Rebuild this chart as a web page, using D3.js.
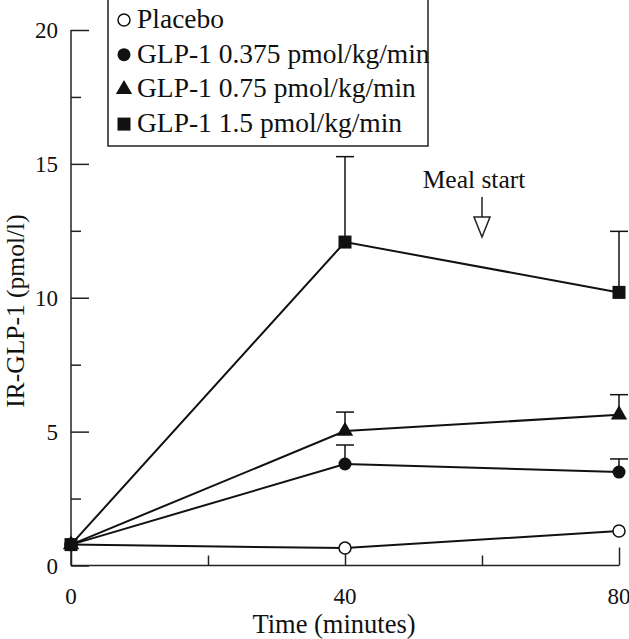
<!DOCTYPE html>
<html><head><meta charset="utf-8">
<script src="https://cdn.jsdelivr.net/npm/d3@7"></script>
<style>body{margin:0;background:#fff}svg{display:block}text{font-family:"Liberation Serif","Times New Roman",serif;fill:#111}</style>
</head><body><svg id="c" width="629" height="639"></svg>
<script>
const times = [0, 40, 80];
const seriesNames = ["Placebo", "GLP-1 0.375 pmol/kg/min", "GLP-1 0.75 pmol/kg/min", "GLP-1 1.5 pmol/kg/min"];
const seriesSymbols = ["openCircle", "circle", "triangle", "square"];
const placebo = [0.78, 0.65, 1.29];
const glp0375 = [0.78, 3.79, 3.49];
const glp075 = [0.78, 5.02, 5.63];
const glp15 = [0.78, 12.08, 10.2];
const placeboUpper = [null, null, null];
const glp0375Upper = [null, 4.5, 3.98];
const glp075Upper = [null, 5.73, 6.38];
const glp15Upper = [null, 15.27, 12.48];
const yTicks = [0, 5, 10, 15, 20];
const yMinorTicks = [2.5, 7.5, 12.5, 17.5];
const xTicks = [0, 40, 80];
const xMinorTicks = [20, 60];
const mealTime = 60;

const svg = d3.select("#c");
const x = d3.scaleLinear().domain([0, 80]).range([71, 619]);
const y = d3.scaleLinear().domain([0, 20]).range([565.5, 30]);

const g = svg.append("g");
const yAxis = d3.axisRight(y).tickValues(yTicks).tickSize(18).tickFormat("");
const yAxisMinor = d3.axisRight(y).tickValues(yMinorTicks).tickSize(10).tickFormat("");
const xAxis = d3.axisTop(x).tickValues(xTicks).tickSize(18).tickFormat("");
const xAxisMinor = d3.axisTop(x).tickValues(xMinorTicks).tickSize(10).tickFormat("");
[[yAxis, `translate(${x(0)},0)`], [yAxisMinor, `translate(${x(0)},0)`], [xAxis, `translate(0,${y(0)})`], [xAxisMinor, `translate(0,${y(0)})`]].forEach(([ax, tr]) => {
  const a = g.append("g").attr("transform", tr).call(ax);
  a.select(".domain").remove();
  a.selectAll(".tick line").attr("stroke", "#222").attr("stroke-width", 1.5);
});
g.append("line").attr("x1", x(0)).attr("x2", x(0)).attr("y1", y(20)).attr("y2", y(0)).attr("stroke", "#222").attr("stroke-width", 1.5);
g.append("line").attr("x1", x(0)).attr("x2", x(80)).attr("y1", y(0)).attr("y2", y(0)).attr("stroke", "#222").attr("stroke-width", 1.5);

g.selectAll(".ylab").data(yTicks).enter().append("text")
  .attr("x", 58).attr("y", d => y(d) + 8).attr("text-anchor", "end").attr("font-size", 23).text(d => d);
g.selectAll(".xlab").data(xTicks).enter().append("text")
  .attr("x", d => x(d)).attr("y", 604).attr("text-anchor", "middle").attr("font-size", 23).text(d => d);

svg.append("text").attr("x", 334).attr("y", 633).attr("text-anchor", "middle").attr("font-size", 26.5).text("Time (minutes)");
svg.append("text").attr("transform", "translate(24,311) rotate(-90)").attr("text-anchor", "middle").attr("font-size", 25.5).text("IR-GLP-1 (pmol/l)");

const allSeries = [placebo, glp0375, glp075, glp15];
const allUpper = [placeboUpper, glp0375Upper, glp075Upper, glp15Upper];
const line = d3.line().x((d, i) => x(times[i])).y(d => y(d));

allUpper.forEach((up, s) => {
  up.forEach((u, i) => {
    if (u == null) return;
    const cx = x(times[i]);
    g.append("line").attr("x1", cx).attr("x2", cx).attr("y1", y(allSeries[s][i])).attr("y2", y(u)).attr("stroke", "#111").attr("stroke-width", 1.5);
    g.append("line").attr("x1", cx - 9).attr("x2", cx + 9).attr("y1", y(u)).attr("y2", y(u)).attr("stroke", "#111").attr("stroke-width", 1.5);
  });
});
allSeries.forEach(s => {
  g.append("path").datum(s).attr("d", line).attr("fill", "none").attr("stroke", "#111").attr("stroke-width", 2);
});

function drawSymbol(sel, type, cx, cy) {
  if (type === "openCircle") sel.append("circle").attr("cx", cx).attr("cy", cy).attr("r", 6).attr("fill", "#fff").attr("stroke", "#111").attr("stroke-width", 1.5);
  else if (type === "circle") sel.append("circle").attr("cx", cx).attr("cy", cy).attr("r", 6.5).attr("fill", "#111");
  else if (type === "triangle") sel.append("path").attr("d", d3.symbol(d3.symbolTriangle, 115)()).attr("transform", `translate(${cx},${cy})`).attr("fill", "#111");
  else sel.append("rect").attr("x", cx - 6.5).attr("y", cy - 6.5).attr("width", 13).attr("height", 13).attr("fill", "#111");
}
allSeries.forEach((s, k) => {
  s.forEach((v, i) => drawSymbol(g, seriesSymbols[k], x(times[i]), y(v)));
});

const mx = x(mealTime);
svg.append("text").attr("x", mx - 8).attr("y", 188).attr("text-anchor", "middle").attr("font-size", 25.5).text("Meal start");
svg.append("line").attr("x1", mx).attr("x2", mx).attr("y1", 197).attr("y2", 217).attr("stroke", "#222").attr("stroke-width", 1.5);
svg.append("path").attr("d", `M${mx - 8},217 L${mx + 8},217 L${mx},237 Z`).attr("fill", "#fff").attr("stroke", "#222").attr("stroke-width", 1.5);

const leg = svg.append("g");
leg.append("rect").attr("x", 108).attr("y", -1).attr("width", 320).attr("height", 147).attr("fill", "#fff").attr("stroke", "#222").attr("stroke-width", 1.5);
seriesNames.forEach((n, i) => {
  const by = 28 + i * 34.7;
  drawSymbol(leg, seriesSymbols[i], 124, by - 8);
  leg.append("text").attr("x", 137).attr("y", by).attr("font-size", 27.5).text(n);
});
</script></body></html>
